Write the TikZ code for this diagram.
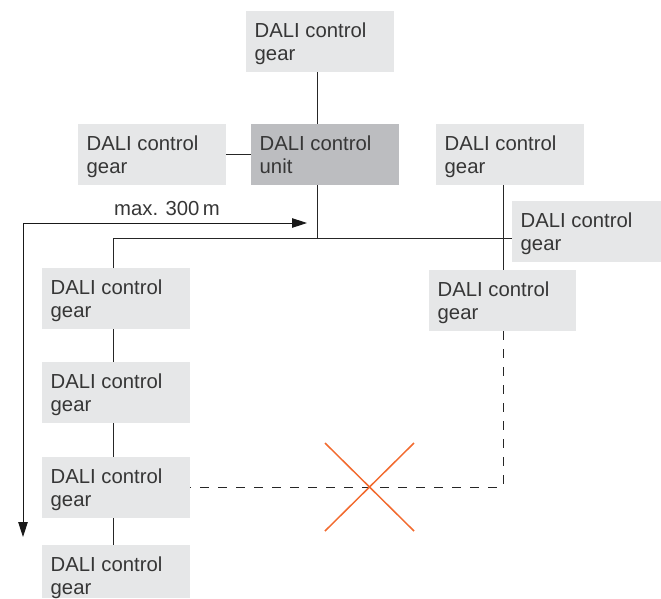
\documentclass[tikz,border=0pt]{standalone}
\usepackage{fontspec}
\setmainfont{Liberation Sans}
\usetikzlibrary{arrows.meta,calc}
\definecolor{boxgray}{HTML}{E6E7E8}
\definecolor{unitgray}{HTML}{BCBDC0}
\definecolor{txtgray}{HTML}{363636}
\definecolor{crossorange}{HTML}{F26A2E}
\begin{document}
\begin{tikzpicture}[x=1pt,y=-1pt,
  gearbox/.style={fill=boxgray,draw=none,anchor=north west,inner sep=0pt,minimum width=148pt,minimum height=61pt},
  unitbox/.style={gearbox,fill=unitgray},
  lbl/.style={anchor=north west,inner sep=0pt,align=left,text=txtgray,font=\fontsize{20.3}{23.5}\selectfont},
  wire/.style={draw=black!85,line width=0.9pt},
  dwire/.style={wire,dash pattern=on 9pt off 9pt},
  meas/.style={draw=black!90,line width=0.9pt,-{Triangle[length=15pt,width=9.5pt]}},
  cross/.style={draw=crossorange,line width=1.5pt}]
\useasboundingbox (0,0) rectangle (661,598);
% boxes
\node[gearbox] (top) at (246,11) {};
\node[gearbox] (left) at (78,124) {};
\node[unitbox] (unit) at (251,124) {};
\node[gearbox] (r1) at (436,124) {};
\node[gearbox,minimum width=149pt] (r2) at (512,201) {};
\node[gearbox,minimum width=147pt] (r3) at (429,270) {};
\node[gearbox] (l1) at (42,268) {};
\node[gearbox] (l2) at (42,362) {};
\node[gearbox] (l3) at (42,457) {};
\node[gearbox,minimum height=53pt] (l4) at (42,545) {};
% labels
\foreach \b/\t in {top/gear,left/gear,unit/unit,r1/gear,r2/gear,r3/gear,l1/gear,l2/gear,l3/gear,l4/gear}
  \node[lbl] (\b-t) at ($(\b.north west)+(8.5,11.5)$) {DALI control\\\t};
% coordinates
\coordinate (busL) at (113,238);
\coordinate (busU) at (317,238);
\coordinate (busR) at (503,238);
\coordinate (dcorner) at (503,487);
\coordinate (d3) at (190,487);
\coordinate (arrL) at (23,223);
\coordinate (arrR) at (307,223);
\coordinate (arrD) at (23,537);
% wires
\draw[wire] (top.south -| busU) -- (unit.north -| busU);
\draw[wire] (left.east |- 0,154) -- (unit.west |- 0,154);
\draw[wire] (unit.south -| busU) -- (busU);
\draw[wire] (l1.north -| busL) -- (busL) -- (r2.west |- busL);
\draw[wire] (r1.south -| busR) -- (r3.north -| busR);
\draw[wire] (l1.south -| busL) -- (l2.north -| busL);
\draw[wire] (l2.south -| busL) -- (l3.north -| busL);
\draw[wire] (l3.south -| busL) -- (l4.north -| busL);
\draw[dwire] (r3.south -| busR) -- (dcorner) -- (d3);
% measure arrows
\draw[meas] (arrL) -- (arrR);
\draw[meas] (arrL) -- (arrD);
\node[lbl,anchor=base] (maxlbl) at (167,215) {max. 300\,m};
% cross
\draw[cross] (325,443) -- (414,531);
\draw[cross] (414,443) -- (325,531);
\end{tikzpicture}
\end{document}
